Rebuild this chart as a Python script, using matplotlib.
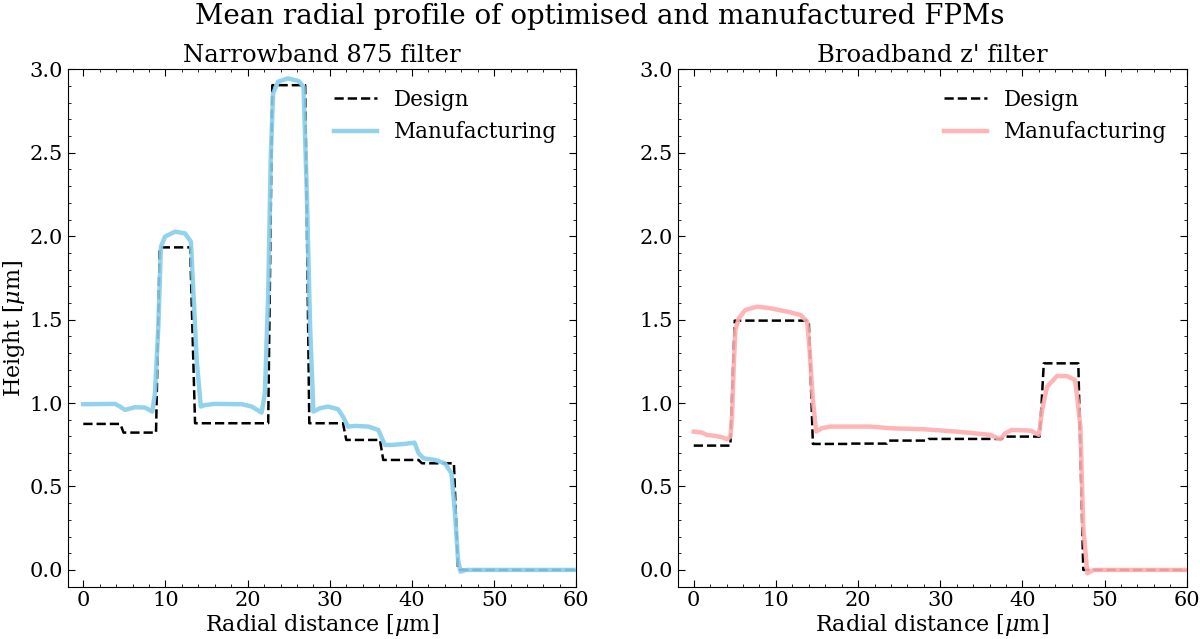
import numpy as np
import matplotlib.pyplot as plt
from matplotlib.ticker import MultipleLocator

plt.rcParams['font.family'] = 'DejaVu Serif'
plt.rcParams['mathtext.fontset'] = 'dejavuserif'

# Narrowband 875 -- design (stepped profile)
nb_design_r = [0, 4.5, 4.9, 8.85, 9.3, 13.0, 13.6, 22.5, 23.0, 27.0, 27.5, 31.6, 32.0,
               36.1, 36.5, 40.8, 41.2, 45.1, 45.6, 60]
nb_design_h = [0.875, 0.875, 0.823, 0.823, 1.933, 1.933, 0.879, 0.879, 2.905, 2.905,
               0.879, 0.879, 0.779, 0.779, 0.659, 0.659, 0.639, 0.639, 0.0, 0.0]

# Narrowband 875 -- manufactured
nb_manuf_r = [0.0, 3.86, 4.46, 5.07, 6.3, 7.5, 8.4, 8.72, 9.13, 9.45, 9.94, 11.15, 12.37,
              13.1, 13.4, 13.8, 14.3, 14.8, 16.0, 19.3, 20.5, 21.7, 22.1, 22.5, 22.8,
              23.1, 23.7, 24.9, 26.2, 26.8, 27.2, 27.6, 28.0, 28.8, 29.8, 31.0, 31.6,
              32.2, 33.1, 34.7, 35.9, 36.7, 37.5, 39.1, 40.3, 40.8, 41.4, 42.8, 44.0,
              44.8, 45.2, 45.6, 45.9, 46.6, 60.0]
nb_manuf_h = [0.993, 0.995, 0.979, 0.959, 0.975, 0.973, 0.949, 1.06, 1.458, 1.937, 1.997,
              2.027, 2.017, 1.967, 1.658, 1.258, 0.979, 0.988, 0.995, 0.993, 0.979, 0.943,
              1.06, 1.658, 2.457, 2.856, 2.926, 2.946, 2.93, 2.896, 2.257, 1.458, 0.949,
              0.969, 0.979, 0.963, 0.919, 0.859, 0.863, 0.859, 0.839, 0.749, 0.749, 0.755,
              0.763, 0.699, 0.669, 0.659, 0.639, 0.579, 0.36, 0.06, -0.01, 0.0, 0.0]

# Broadband z' -- design
bb_design_r = [0, 4.46, 4.99, 14.0, 14.5, 18.7, 18.9, 23.5, 23.7, 28.4, 28.6, 37.5, 37.7,
               42.1, 42.6, 46.8, 47.4, 60]
bb_design_h = [0.745, 0.745, 1.494, 1.494, 0.755, 0.755, 0.757, 0.757, 0.775, 0.775,
               0.785, 0.785, 0.799, 0.799, 1.238, 1.238, 0.0, 0.0]

# Broadband z' -- manufactured
bb_manuf_r = [0.0, 1.0, 1.6, 2.6, 3.45, 4.06, 4.46, 4.67, 4.87, 5.07, 5.47, 6.29, 7.7,
              9.33, 11.36, 13.0, 13.8, 14.1, 14.5, 14.9, 15.6, 16.6, 21.5, 23.9, 28.0,
              32.0, 36.1, 37.3, 37.9, 38.7, 41.0, 42.0, 42.4, 43.0, 44.2, 45.4, 46.4,
              46.7, 47.05, 47.4, 47.9, 48.7, 60.0]
bb_manuf_h = [0.829, 0.823, 0.809, 0.803, 0.795, 0.783, 0.799, 0.919, 1.218, 1.438, 1.508,
              1.558, 1.578, 1.568, 1.548, 1.528, 1.488, 1.318, 1.019, 0.829, 0.849, 0.859,
              0.859, 0.849, 0.843, 0.829, 0.809, 0.783, 0.819, 0.839, 0.835, 0.809, 0.959,
              1.098, 1.162, 1.162, 1.138, 1.019, 0.859, 0.26, -0.02, 0.0, 0.0]

panels = [
    ("Narrowband 875 filter", nb_design_r, nb_design_h, nb_manuf_r, nb_manuf_h, 'skyblue'),
    ("Broadband z' filter", bb_design_r, bb_design_h, bb_manuf_r, bb_manuf_h, '#ffadad'),
]

fig, axes = plt.subplots(1, 2, figsize=(12, 6.39), dpi=100)
fig.subplots_adjust(left=0.0564, right=0.989, bottom=0.082, top=0.8915, wspace=0.2)

for ax, (title, dr, dh, mr, mh, col) in zip(axes, panels):
    ax.plot(dr, dh, 'k--', lw=1.8, label='Design', zorder=2)
    ax.plot(mr, mh, color=col, lw=3.2, alpha=0.9, label='Manufacturing', zorder=3)
    ax.set_xlim(-1.9, 60)
    ax.set_ylim(-0.1, 3.0)
    ax.xaxis.set_major_locator(MultipleLocator(10))
    ax.xaxis.set_minor_locator(MultipleLocator(2))
    ax.yaxis.set_major_locator(MultipleLocator(0.5))
    ax.yaxis.set_minor_locator(MultipleLocator(0.1))
    ax.tick_params(which='both', direction='in', top=True, right=True, labelsize=15)
    ax.tick_params(which='major', length=5)
    ax.tick_params(which='minor', length=2.5)
    ax.set_title(title, fontsize=17.5, pad=5)
    ax.set_xlabel(r'Radial distance [$\mu$m]', fontsize=16, labelpad=1)
    ax.legend(loc='upper right', frameon=False, fontsize=15.5)

axes[0].set_ylabel(r'Height [$\mu$m]', fontsize=16, labelpad=2)
fig.suptitle('Mean radial profile of optimised and manufactured FPMs', fontsize=20, y=0.995)

plt.savefig('out.png', dpi=100)
